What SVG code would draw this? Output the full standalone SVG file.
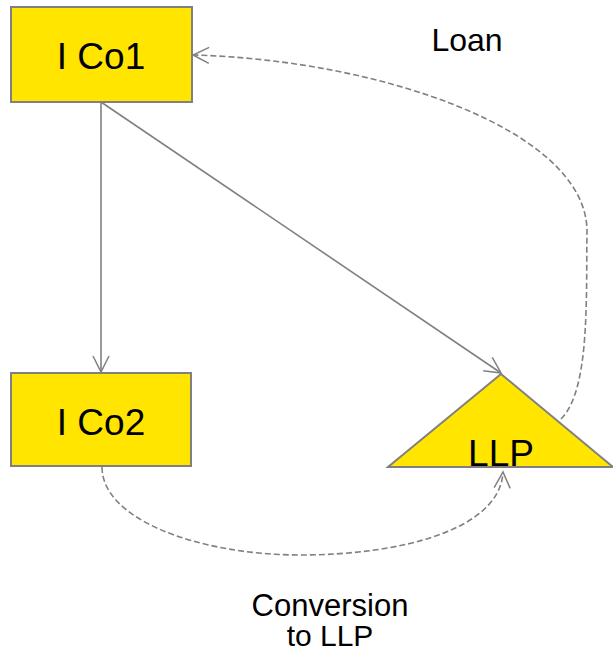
<svg xmlns="http://www.w3.org/2000/svg" width="613" height="652" viewBox="0 0 613 652">
<defs>
<marker id="arr" viewBox="0 0 20 20" refX="18" refY="10" markerWidth="20" markerHeight="20" markerUnits="userSpaceOnUse" orient="auto">
<path d="M2,2 L18,10 L2,18" fill="none" stroke="#808080" stroke-width="1.5"/>
</marker>
<style>
.node{fill:#FFE500;stroke:#808080;stroke-width:2}
.lbl{font-family:"Liberation Sans",Arial,sans-serif;fill:#000;text-anchor:middle}
.edge{fill:none;stroke:#808080;stroke-width:1.6;marker-end:url(#arr)}
.dash{stroke-dasharray:6,3}
</style>
</defs>
<g id="connectors">
<path class="edge" d="M101,102 L101,372"/>
<path class="edge" d="M101,102 L501,373"/>
<path class="edge dash" d="M561,419 C590,390 586,300 587,230 C585,130 380,60 193,55"/>
<path class="edge dash" d="M102,467 C102,520 200,555 300,555 C400,555 500,530 503,472"/>
</g>
<g id="ico1">
<rect class="node" x="11" y="7" width="181" height="95"/>
<text class="lbl" x="101" y="69" font-size="37">I Co1</text>
</g>
<g id="ico2">
<rect class="node" x="11" y="373" width="180" height="93"/>
<text class="lbl" x="101" y="435" font-size="37">I Co2</text>
</g>
<g id="llp">
<polygon class="node" points="501,374 613,467 388,467"/>
<text class="lbl" x="501" y="466" font-size="37">LLP</text>
</g>
<g id="labels">
<text class="lbl" x="467" y="51" font-size="32">Loan</text>
<text class="lbl" x="330" y="616" font-size="31">Conversion</text>
<text class="lbl" x="330" y="646" font-size="30">to LLP</text>
</g>
</svg>
